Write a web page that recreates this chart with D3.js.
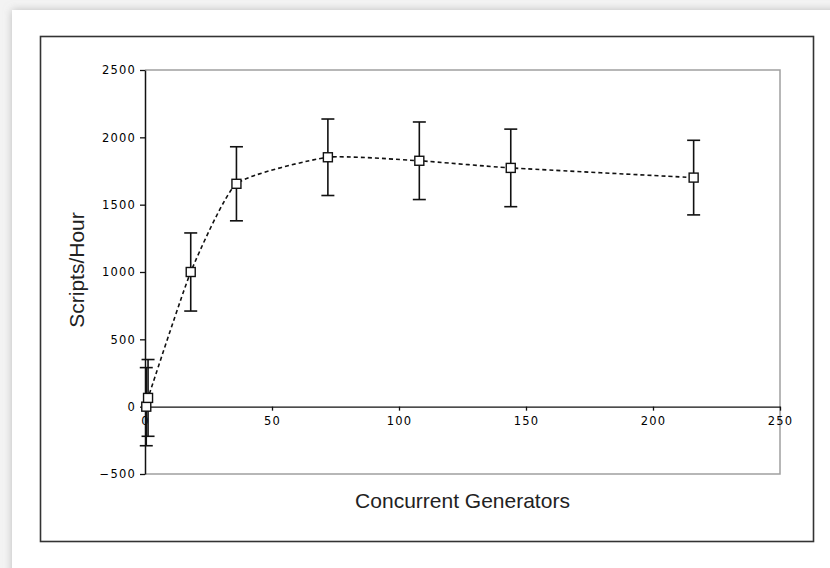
<!DOCTYPE html>
<html>
<head>
<meta charset="utf-8">
<script src="https://cdn.jsdelivr.net/npm/d3@7"></script>
<style>
  body { margin: 0; background: #fff; }
  svg { display: block; }
  .tick text { font-family: "DejaVu Sans", Verdana, sans-serif; font-size: 11.5px; letter-spacing: 1.2px; fill: #000; }
  .title { font-family: "Liberation Sans", Arial, sans-serif; fill: #222; }
</style>
</head>
<body>
<svg id="chart" width="830" height="568"></svg>
<script>
// Chart data
const generators = [0.5, 1.2, 18, 36, 72, 108, 144, 216];
const scriptsPerHour = [0, 65, 1000, 1655, 1852, 1826, 1773, 1701];
const errors = [290, 285, 290, 275, 284, 288, 288, 277];
const xTicks = [0, 50, 100, 150, 200, 250];
const yTicks = [-500, 0, 500, 1000, 1500, 2000, 2500];

const points = generators.map((g, i) => ({ x: g, y: scriptsPerHour[i], err: errors[i] }));

const svg = d3.select("#chart");

//Page background with the soft shadowed panel
const defs = svg.append("defs");
const shadow = defs.append("filter").attr("id", "shadow")
    .attr("x", "-5%").attr("y", "-5%").attr("width", "110%").attr("height", "110%");
shadow.append("feDropShadow")
    .attr("dx", 0).attr("dy", 0)
    .attr("stdDeviation", 4)
    .attr("flood-color", "#9a9a9a")
    .attr("flood-opacity", 0.6);

svg.append("rect").attr("width", 830).attr("height", 568).attr("fill", "#f3f3f3");
svg.append("rect")
    .attr("x", 12).attr("y", 10)
    .attr("width", 840).attr("height", 600)
    .attr("fill", "#fff")
    .attr("filter", "url(#shadow)");

//Outer chart border
svg.append("rect")
    .attr("x", 40.5).attr("y", 36.5)
    .attr("width", 773).attr("height", 505)
    .attr("fill", "none")
    .attr("stroke", "#333")
    .attr("stroke-width", 1.6);

//Plot area
const plot = { left: 145, right: 780, top: 70, bottom: 474 };

const x = d3.scaleLinear().domain([0, 250]).range([plot.left, plot.right]);
const y = d3.scaleLinear().domain([-500, 2500]).range([plot.bottom, plot.top]);

//Grey frame on top, right, bottom
svg.append("path")
    .attr("d", `M${plot.left},${plot.top}H${plot.right}V${plot.bottom}H${plot.left}`)
    .attr("fill", "none")
    .attr("stroke", "#a0a0a0")
    .attr("stroke-width", 1.5);

//Y axis
const yAxis = svg.append("g")
    .attr("transform", `translate(${plot.left},0)`)
    .call(d3.axisLeft(y).tickValues(yTicks).tickFormat(d3.format("d"))
        .tickSize(5).tickPadding(4).tickSizeOuter(0));
yAxis.select(".domain").attr("stroke", "#111").attr("stroke-width", 1.5);
yAxis.selectAll(".tick line").attr("stroke", "#111").attr("stroke-width", 1.3);

//X axis drawn at y = 0
const xAxis = svg.append("g")
    .attr("transform", `translate(0,${y(0)})`)
    .call(d3.axisBottom(x).tickValues(xTicks).tickFormat(d3.format("d"))
        .tickSize(4).tickPadding(6).tickSizeOuter(0));
xAxis.select(".domain").attr("stroke", "#111").attr("stroke-width", 1.3);
xAxis.selectAll(".tick line").attr("stroke", "#111").attr("stroke-width", 1.3);

//Smoothed dashed line through the points
const line = d3.line()
    .x(d => x(d.x))
    .y(d => y(d.y))
    .curve(d3.curveCardinal.tension(0.5));

svg.append("path")
    .datum(points)
    .attr("d", line)
    .attr("fill", "none")
    .attr("stroke", "#111")
    .attr("stroke-width", 1.6)
    .attr("stroke-dasharray", "4,3");

//Error bars
const capHalf = 6.5;
const bars = svg.append("g").attr("stroke", "#111").attr("stroke-width", 1.6);
points.forEach(d => {
    bars.append("line")
        .attr("x1", x(d.x)).attr("x2", x(d.x))
        .attr("y1", y(d.y + d.err)).attr("y2", y(d.y - d.err));
    [d.y + d.err, d.y - d.err].forEach(v => {
        bars.append("line")
            .attr("x1", x(d.x) - capHalf).attr("x2", x(d.x) + capHalf)
            .attr("y1", y(v)).attr("y2", y(v));
    });
});

//Square markers
const size = 9;
svg.append("g").selectAll("rect")
    .data(points)
    .enter()
    .append("rect")
    .attr("x", d => x(d.x) - size / 2)
    .attr("y", d => y(d.y) - size / 2)
    .attr("width", size)
    .attr("height", size)
    .attr("fill", "#fff")
    .attr("stroke", "#111")
    .attr("stroke-width", 1.4);

//Axis titles
svg.append("text")
    .attr("class", "title")
    .attr("x", (plot.left + plot.right) / 2)
    .attr("y", 508)
    .attr("text-anchor", "middle")
    .style("font-size", "21px")
    .text("Concurrent Generators");

svg.append("text")
    .attr("class", "title")
    .attr("transform", `translate(84,270) rotate(-90)`)
    .attr("text-anchor", "middle")
    .style("font-size", "21px")
    .text("Scripts/Hour");
</script>
</body>
</html>
